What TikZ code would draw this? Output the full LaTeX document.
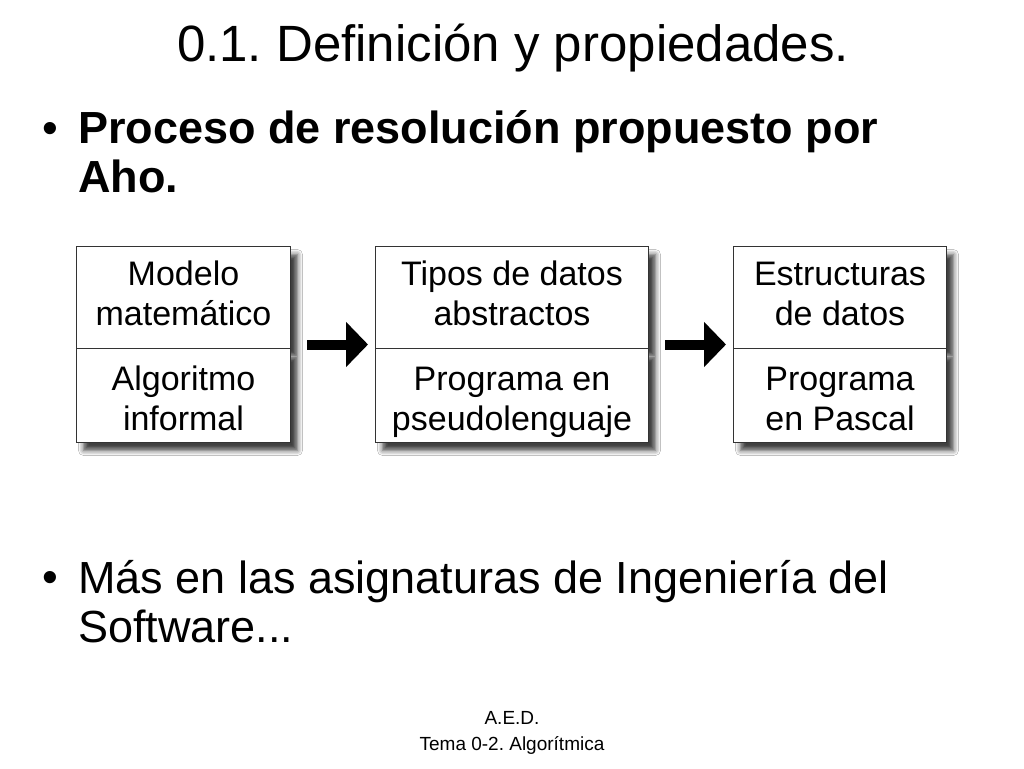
\documentclass[tikz,border=0pt]{standalone}
\usepackage{fontspec}
\setmainfont{Liberation Sans}
\usetikzlibrary{shapes.multipart,arrows.meta,shadows.blur}
\frenchspacing
% celda: [pos]{alto}{ancho}{linea 1}{linea 2}
\newcommand{\celda}[5][c]{\parbox[c][#2pt][#1]{#3pt}{\centering\strut #4\\\strut #5}}

\begin{document}
\begin{tikzpicture}[
    x=1pt, y=-1pt,
    caja/.style={draw=black!80, line width=1pt, fill=white, rectangle split, rectangle split parts=2, inner sep=0pt, anchor=north west, font=\fontsize{34}{40}\selectfont, blur shadow={shadow xshift=7pt, shadow yshift=-8pt, shadow blur radius=5pt, shadow opacity=75}},
    flecha/.style={line width=10pt, -{Triangle[length=22pt,width=44pt]}, shorten <=16pt, shorten >=7pt},
    titulo/.style={inner sep=0pt, anchor=base, font=\fontsize{51}{60}\selectfont},
    punto/.style={inner sep=0pt, anchor=base, font=\fontsize{45}{50}\selectfont},
    texto/.style={inner sep=0pt, anchor=base west, align=left, font=\fontsize{45}{49}\selectfont},
    pie/.style={inner sep=0pt, anchor=base, align=center, font=\fontsize{19}{26}\selectfont}
]
\fill[white] (0,0) rectangle (1024,768);
\useasboundingbox (0,0) rectangle (1024,768);

\node[titulo] (title) at (513,62) {0.1. Definición y propiedades.};

% base = ultima linea del texto
\node[punto] (bullet-aho) at (50,143) {•};
\node[texto, font=\fontsize{45}{49}\selectfont\bfseries] (aho) at (78,192) {Proceso de resolución propuesto por\\Aho.};

\node[caja] (modelo) at (76,246) {\celda{101}{214}{Modelo}{matemático}\nodepart{two}\celda[b]{81}{214}{Algoritmo}{informal}};
\node[caja] (tipos) at (375,246) {\celda{101}{273}{Tipos de datos}{abstractos}\nodepart{two}\celda[b]{81}{273}{Programa en}{pseudolenguaje}};
\node[caja] (estructuras) at (733,246) {\celda{101}{213}{Estructuras}{de datos}\nodepart{two}\celda[b]{81}{213}{Programa}{en Pascal}};
\draw[flecha] (modelo.east) -- (tipos.west);
\draw[flecha] (tipos.east) -- (estructuras.west);

\node[punto] (bullet-mas) at (50,592) {•};
\node[texto] (mas) at (78,642) {Más en las asignaturas de Ingeniería del\\Software...};

\node[pie] (footer) at (512,750) {A.E.D.\\Tema 0-2. Algorítmica};
\end{tikzpicture}
\end{document}
